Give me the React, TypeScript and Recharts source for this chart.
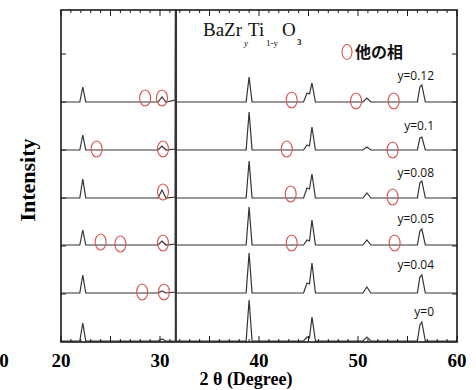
import React from 'react';
import { ComposedChart, Line, Scatter, XAxis, YAxis } from 'recharts';

// 2θ sample positions shared by every pattern
const twoTheta = [20, 21.9, 22.2, 22.5, 29.8, 30.2, 30.6, 31.55, 31.6, 31.65, 38.7, 39.0, 39.3, 44.5, 44.85, 45.1, 45.35, 45.7, 50.5, 50.9, 51.3, 56.0, 56.25, 56.45, 56.8, 60];

// intensities (a.u.), relative to its own baseline
const patY0 = [0, 0, 18, 0, 0, 2, 0, 0, 420, 0, 0, 41, 0, 0, 4, 3, 24, 0, 0, 4, 0, 0, 16, 19, 0, 0];
const patY004 = [0, 0, 18, 0, 0, 2, 0, 1, 420, 0, 0, 40, 0, 0, 10, 9, 30, 0, 0, 6, 0, 0, 16, 18, 0, 0];
const patY005 = [0, 0, 15, 0, 0, 4, 0, 1, 420, 0, 0, 38, 0, 0, 5, 4, 25, 0, 0, 5, 0, 0, 14, 16, 0, 0];
const patY008 = [0, 0, 19, 0, 0, 8, 0, 1, 420, 0, 0, 37, 0, 0, 10, 9, 24, 0, 0, 5, 0, 0, 15, 17, 0, 0];
const patY010 = [0, 0, 15, 0, 0, 4, 0, 1, 420, 0, 0, 38, 0, 0, 5, 4, 23, 0, 0, 3, 0, 0, 12, 13, 0, 0];
const patY012 = [0, 0, 15, 0, 0, 5, 0, 2, 420, 0, 0, 25, 0, 0, 9, 8, 19, 0, 0, 4, 0, 0, 15, 17, 0, 0];

const patterns = [patY0, patY004, patY005, patY008, patY010, patY012];
const offsets = [1, 49, 97, 144, 192, 240];
const sampleLabels = ['y=0', 'y=0.04', 'y=0.05', 'y=0.08', 'y=0.1', 'y=0.12'];

// red circles marking other phases: 2θ and height
const phaseX = [28.2, 30.4, 24.0, 26.0, 30.3, 43.3, 53.7, 30.3, 43.2, 53.5, 23.6, 30.3, 42.8, 53.5, 28.5, 30.2, 43.3, 49.8, 53.6];
const phaseY = [50, 50, 100, 98, 99, 99, 99, 150, 148, 145, 193, 193, 193, 192, 244, 244, 242, 241, 241];

const xTicks = [20, 21, 22, 23, 24, 25, 26, 27, 28, 29, 30, 31, 32, 33, 34, 35, 36, 37, 38, 39, 40, 41, 42, 43, 44, 45, 46, 47, 48, 49, 50, 51, 52, 53, 54, 55, 56, 57, 58, 59, 60];
const xLabels = [20, 30, 40, 50, 60];
const yTicks = [48, 96, 144, 192, 240, 288];
const X_MIN = 20, X_MAX = 60, Y_MAX = 332;

const rows = twoTheta.map((x, i) => {
  const row: any = { x };
  patterns.forEach((p, k) => { row['s' + k] = p[i] + offsets[k]; });
  return row;
});
const circles = phaseX.map((x, i) => ({ x, v: phaseY[i] }));

const W = 476, H = 390;
const margin = { top: 10, right: 19, bottom: 48, left: 61 };
const plotL = margin.left, plotR = W - margin.right, plotT = margin.top, plotB = H - margin.bottom;
const px = (v: number) => plotL + ((v - X_MIN) / (X_MAX - X_MIN)) * (plotR - plotL);
const py = (v: number) => plotB - (v / Y_MAX) * (plotB - plotT);

const ink = '#1a1a1a';
const serif = '"Liberation Serif", "Times New Roman", serif';

const Ring = ({ cx, cy }: any) => (
  <ellipse cx={cx} cy={cy} rx={5.5} ry={8} fill="none" stroke="#d9534f" strokeWidth={1.1} />
);

const labelY = [316, 269, 223, 177, 130, 80];

// inward ticks on all four sides
const tickD =
  xTicks.map((v) => {
    const len = v % 5 === 0 ? 6 : 3;
    return `M${px(v)},${plotB}v${-len}M${px(v)},${plotT}v${len}`;
  }).join('') +
  yTicks.map((v) => `M${plotL},${py(v)}h5M${plotR},${py(v)}h-5`).join('');

export default function App() {
  return (
    <div style={{ position: 'absolute', left: 0, top: 0, width: W, height: H, background: '#fff' }}>
      <ComposedChart width={W} height={H} data={rows} margin={margin}>
        <XAxis dataKey="x" type="number" domain={[X_MIN, X_MAX]} hide />
        <YAxis type="number" domain={[0, Y_MAX]} allowDataOverflow hide />
        {patterns.map((_, k) => (
          <Line key={k} dataKey={'s' + k} type="linear" stroke="#333" strokeWidth={1.2} dot={false} isAnimationActive={false} />
        ))}
        <Scatter data={circles} dataKey="v" shape={<Ring />} isAnimationActive={false} />
      </ComposedChart>
      <svg width={W} height={H} style={{ position: 'absolute', left: 0, top: 0, pointerEvents: 'none' }}>
        <rect x={plotL} y={plotT} width={plotR - plotL} height={plotB - plotT} fill="none" stroke={ink} strokeWidth={1.6} />
        <path d={tickD} fill="none" stroke={ink} strokeWidth={1} />
        {xLabels.map((v) => (
          <text key={v} x={px(v)} y={plotB + 25} textAnchor="middle" fontFamily={serif} fontWeight="bold" fontSize={19} fill="#000">{v}</text>
        ))}
        <text x={203} y={36} fontFamily={serif} fontSize={19} fill="#111">BaZr</text>
        <text x={244} y={46} fontFamily={serif} fontSize={9} fontStyle="italic" fill="#111">y</text>
        <text x={248} y={36} fontFamily={serif} fontSize={19} fill="#111">Ti</text>
        <text x={266} y={46} fontFamily={serif} fontSize={9} fill="#111">1-y</text>
        <text x={282} y={36} fontFamily={serif} fontSize={19} fill="#111">O</text>
        <text x={297} y={45} fontFamily={serif} fontSize={9} fontWeight="bold" fill="#111">3</text>
        <ellipse cx={347} cy={52} rx={5} ry={7.5} fill="none" stroke="#d9534f" strokeWidth={1.1} />
        <text x={355} y={58} fontFamily='"Noto Sans CJK JP", sans-serif' fontWeight="bold" fontSize={16} fill="#111">他の相</text>
        {sampleLabels.map((s, k) => (
          <text key={s} x={434} y={labelY[k]} textAnchor="end" fontFamily='"Open Sans", sans-serif' fontSize={12} fill="#111">{s}</text>
        ))}
        <text x={27} y={180} transform="rotate(-90 27 180)" textAnchor="middle" dominantBaseline="central"
          fontFamily={serif} fontWeight="bold" fontSize={22} fill="#000">Intensity</text>
        <text x={246} y={385} textAnchor="middle" fontFamily={serif} fontWeight="bold" fontSize={18} fill="#000">2 θ (Degree)</text>
        <text x={4} y={367} textAnchor="middle" fontFamily={serif} fontWeight="bold" fontSize={19} fill="#000">0</text>
      </svg>
    </div>
  );
}
